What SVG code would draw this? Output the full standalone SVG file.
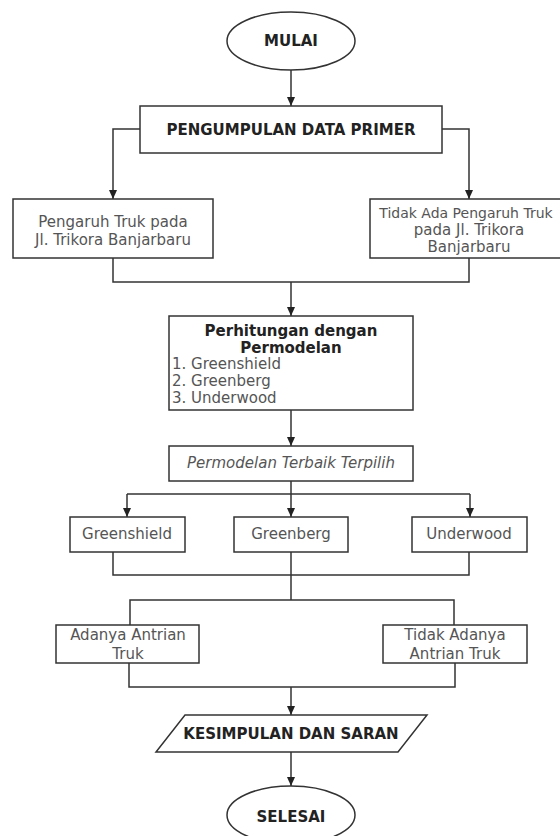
<svg xmlns="http://www.w3.org/2000/svg" width="560" height="836" viewBox="0 0 560 836">
<style>
.box{fill:#fff;stroke:#333;stroke-width:1.5}
.ln{fill:none;stroke:#333;stroke-width:1.5}
text{font-family:"DejaVu Sans",Verdana,sans-serif;font-size:15px;fill:#555}
.b{font-weight:bold;fill:#222}
.c{text-anchor:middle}
.i{font-style:italic}
</style>
<defs>
<marker id="ah" markerWidth="10" markerHeight="10" refX="9" refY="5" orient="auto" markerUnits="userSpaceOnUse">
<path d="M0,1 L9,5 L0,9 Z" fill="#222"/>
</marker>
</defs>
<rect width="560" height="836" fill="#fff"/>
<g id="connectors">
<path class="ln" d="M291,70 V106" marker-end="url(#ah)"/>
<path class="ln" d="M140,129 H113 V199" marker-end="url(#ah)"/>
<path class="ln" d="M442,129 H469 V199" marker-end="url(#ah)"/>
<path class="ln" d="M113,258 V282 H469 V258"/>
<path class="ln" d="M291,282 V316" marker-end="url(#ah)"/>
<path class="ln" d="M291,410 V446" marker-end="url(#ah)"/>
<path class="ln" d="M291,481 V517" marker-end="url(#ah)"/>
<path class="ln" d="M127,494 H470"/>
<path class="ln" d="M127,494 V517" marker-end="url(#ah)"/>
<path class="ln" d="M470,494 V517" marker-end="url(#ah)"/>
<path class="ln" d="M113,552 V575 H469 V552"/>
<path class="ln" d="M291,552 V600"/>
<path class="ln" d="M130,625 V600 H454 V625"/>
<path class="ln" d="M129,663 V687 H455 V663"/>
<path class="ln" d="M291,687 V715" marker-end="url(#ah)"/>
<path class="ln" d="M291,752 V786" marker-end="url(#ah)"/>
</g>
<g id="mulai">
<ellipse class="box" cx="291" cy="41" rx="64" ry="29"/>
<text class="b c" x="291" y="46">MULAI</text>
</g>
<g id="pengumpulan">
<rect class="box" x="140" y="106" width="302" height="47"/>
<text class="b c" x="291" y="135">PENGUMPULAN DATA PRIMER</text>
</g>
<g id="pengaruh">
<rect class="box" x="13" y="199" width="200" height="59"/>
<text class="c" x="113" y="227">Pengaruh Truk pada</text>
<text class="c" x="113" y="245">Jl. Trikora Banjarbaru</text>
</g>
<g id="tidak-pengaruh">
<rect class="box" x="370" y="199" width="198" height="59"/>
<text class="c" x="466" y="218" style="font-size:14px">Tidak Ada Pengaruh Truk</text>
<text class="c" x="469" y="235">pada Jl. Trikora</text>
<text class="c" x="469" y="252">Banjarbaru</text>
</g>
<g id="perhitungan">
<rect class="box" x="169" y="316" width="244" height="94"/>
<text class="b c" x="291" y="336">Perhitungan dengan</text>
<text class="b c" x="291" y="353">Permodelan</text>
<text x="172" y="369">1. Greenshield</text>
<text x="172" y="386">2. Greenberg</text>
<text x="172" y="403">3. Underwood</text>
</g>
<g id="terbaik">
<rect class="box" x="169" y="446" width="244" height="35"/>
<text class="c i" x="291" y="468">Permodelan Terbaik Terpilih</text>
</g>
<g id="greenshield">
<rect class="box" x="70" y="517" width="115" height="35"/>
<text class="c" x="127" y="539">Greenshield</text>
</g>
<g id="greenberg">
<rect class="box" x="234" y="517" width="114" height="35"/>
<text class="c" x="291" y="539">Greenberg</text>
</g>
<g id="underwood">
<rect class="box" x="412" y="517" width="115" height="35"/>
<text class="c" x="469" y="539">Underwood</text>
</g>
<g id="antrian">
<rect class="box" x="56" y="625" width="143" height="38"/>
<text class="c" x="128" y="640">Adanya Antrian</text>
<text class="c" x="128" y="659">Truk</text>
</g>
<g id="tidak-antrian">
<rect class="box" x="383" y="625" width="144" height="38"/>
<text class="c" x="455" y="640">Tidak Adanya</text>
<text class="c" x="455" y="659">Antrian Truk</text>
</g>
<g id="kesimpulan">
<polygon class="box" points="185,715 427,715 398,752 156,752"/>
<text class="b c" x="291" y="739">KESIMPULAN DAN SARAN</text>
</g>
<g id="selesai">
<ellipse class="box" cx="291" cy="815" rx="64" ry="29"/>
<text class="b c" x="291" y="822">SELESAI</text>
</g>
</svg>
